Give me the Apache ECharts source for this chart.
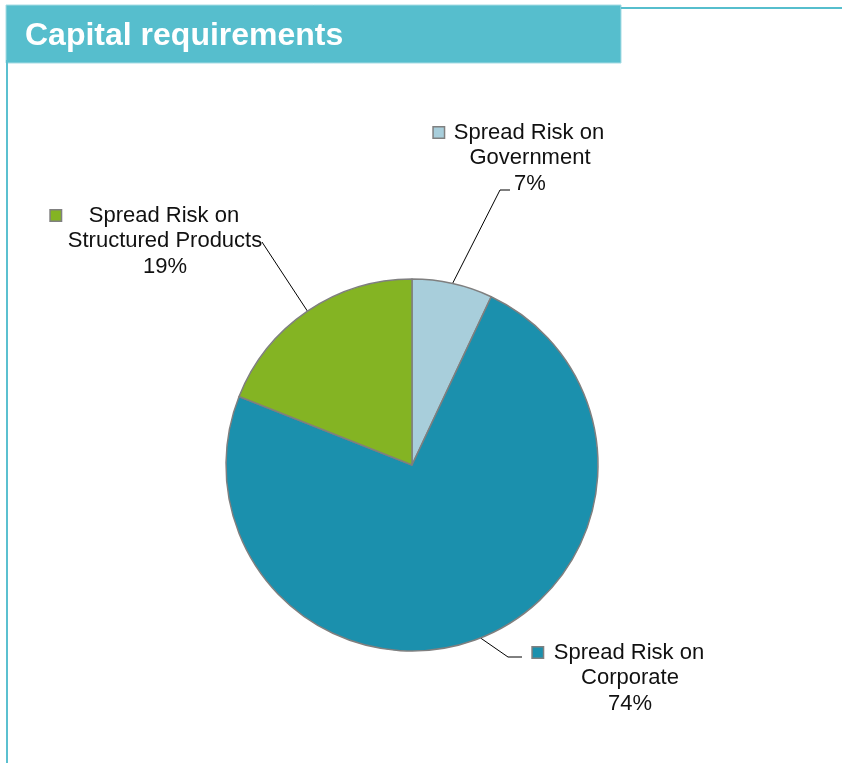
<!DOCTYPE html>
<html>
<head>
<meta charset="utf-8">
<script src="https://cdn.jsdelivr.net/npm/echarts@6/dist/echarts.min.js"></script>
<style>
html,body{margin:0;padding:0;background:#fff;}
#chart{width:842px;height:763px;}
</style>
</head>
<body>
<div id="chart"></div>
<script>
// ---- data ----
const titleText = 'Capital requirements';
const categories = ['Spread Risk on\nGovernment', 'Spread Risk on\nCorporate', 'Spread Risk on\nStructured Products'];
const values = [7, 74, 19];
const colors = ['#A8CEDB', '#1B90AD', '#84B423'];

// ---- layout (styling, not data) ----
const pieCenter = [412, 465];
const pieRadius = 186;
const labelPos = [[530, 158], [630, 678], [165, 241]];
const markerGap = [10, 11, 28];
const FONT = 'Arial, "Liberation Sans", Helvetica, sans-serif';

const rich = { t: { fontSize: 22, lineHeight: 25.5, color: '#111', fontFamily: FONT } };
colors.forEach((c, i) => {
  rich['m' + i] = { width: 10, height: 10, backgroundColor: c, borderColor: '#808080', borderWidth: 1.5, verticalAlign: 'middle' };
  rich['g' + i] = { width: markerGap[i], height: 10 };
  rich['s' + i] = { width: 12 + markerGap[i], height: 10 };
});

const data = categories.map((n, i) => ({ name: n, value: values[i], itemStyle: { color: colors[i] } }));

const chart = echarts.init(document.getElementById('chart'), null, { renderer: 'canvas' });
chart.setOption({
  animation: false,
  backgroundColor: '#fff',
  graphic: [
    { type: 'rect', shape: { x: 6, y: 5, width: 615, height: 58 }, style: { fill: '#56BECD', stroke: '#A6DCE4', lineWidth: 1 }, z: 0 },
    { type: 'line', shape: { x1: 621, y1: 8, x2: 842, y2: 8 }, style: { stroke: '#56BECD', lineWidth: 2 } },
    { type: 'line', shape: { x1: 7, y1: 60, x2: 7, y2: 763 }, style: { stroke: '#5BC0D0', lineWidth: 2 } }
  ],
  title: {
    text: titleText, left: 25, top: 20, padding: 0,
    textStyle: { color: '#fff', fontSize: 32, fontWeight: 'bold', fontFamily: FONT }
  },
  series: [{
    type: 'pie',
    center: pieCenter,
    radius: pieRadius,
    startAngle: 90,
    clockwise: true,
    data: data,
    itemStyle: { borderColor: '#7F7F7F', borderWidth: 1.5 },
    emphasis: { disabled: true },
    label: {
      show: true,
      position: 'outside',
      align: 'center',
      rich: rich,
      formatter: p => {
        const lines = p.name.split('\n');
        const i = p.dataIndex;
        let s = '{m' + i + '|}{g' + i + '|}{t|' + lines[0] + '}{s' + i + '|}';
        for (let k = 1; k < lines.length; k++) s += '\n{t|' + lines[k] + '}';
        s += '\n{t|' + p.value + '%}';
        return s;
      }
    },
    labelLine: { show: true, smooth: false, length: 10, length2: 10, lineStyle: { color: '#000', width: 1 } },
    labelLayout: params => {
      const i = params.dataIndex;
      const [x, y] = labelPos[i];
      const start = params.labelLinePoints ? params.labelLinePoints[0] : [x, y];
      let pts;
      if (i === 0) pts = [start, [x - 30, y + 32], [x - 20, y + 32]];
      else if (i === 1) pts = [start, [x - 122, y - 21], [x - 108, y - 21]];
      else pts = [start, [x + 97, y + 1], [x + 97, y + 1]];
      return { x: x, y: y, align: 'center', verticalAlign: 'middle', labelLinePoints: pts };
    }
  }]
});
</script>
</body>
</html>
